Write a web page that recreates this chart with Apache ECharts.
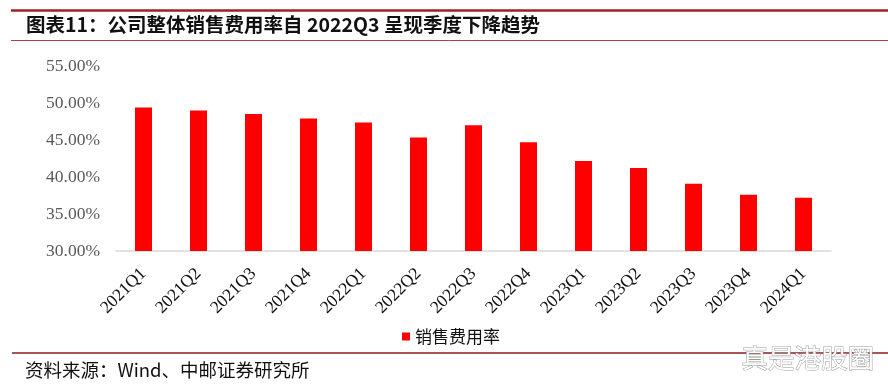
<!DOCTYPE html>
<html>
<head>
<meta charset="utf-8">
<script src="https://cdn.jsdelivr.net/npm/echarts@6/dist/echarts.min.js"></script>
<style>html,body{margin:0;padding:0;background:#fff;}#c{width:888px;height:390px;}</style>
</head>
<body>
<div id="c"></div>
<script>
const categories = ['2021Q1','2021Q2','2021Q3','2021Q4','2022Q1','2022Q2','2022Q3','2022Q4','2023Q1','2023Q2','2023Q3','2023Q4','2024Q1'];
const salesExpenseRatio = [49.4, 49.0, 48.5, 47.9, 47.35, 45.35, 47.0, 44.7, 42.15, 41.2, 39.1, 37.6, 37.2];
const seriesName = '销售费用率';
const titleText = '图表11：公司整体销售费用率自 2022Q3 呈现季度下降趋势';
const sourceText = '资料来源：Wind、中邮证券研究所';
const watermarkText = '真是港股圈';
const yMin = 30, yMax = 55, yStep = 5;

const chart = echarts.init(document.getElementById('c'), null, {renderer: 'canvas'});
chart.setOption({
  animation: false,
  backgroundColor: '#fff',
  graphic: [
    {type: 'line', shape: {x1: 11, y1: 10.5, x2: 888, y2: 10.5}, style: {stroke: '#9e1f24', lineWidth: 2.5}},
    {type: 'text', left: 26, top: 15, style: {text: titleText, font: 'bold 19.5px "Noto Sans CJK SC"', fill: '#111'}},
    {type: 'line', shape: {x1: 11, y1: 40.5, x2: 888, y2: 40.5}, style: {stroke: '#a84044', lineWidth: 1}},
    {type: 'line', shape: {x1: 12, y1: 353, x2: 888, y2: 353}, style: {stroke: '#8c1c20', lineWidth: 1.5}},
    {type: 'text', left: 25, top: 361, style: {text: sourceText, font: '18.5px "Noto Sans CJK SC"', fill: '#111'}},
    {type: 'text', left: 741, top: 344, style: {text: watermarkText, font: '26.5px "Noto Sans CJK SC"', fill: '#fff', stroke: '#9a9a9a', lineWidth: 1}}
  ],
  legend: {
    data: [seriesName],
    left: 397, top: 323,
    icon: 'rect', itemWidth: 8, itemHeight: 8, itemGap: 4,
    textStyle: {fontFamily: '"Noto Sans CJK SC"', fontSize: 17, color: '#111'}
  },
  grid: {left: 116, right: 57, top: 66, bottom: 139, containLabel: false},
  xAxis: {
    type: 'category',
    data: categories,
    axisLine: {lineStyle: {color: '#d9d9d9', width: 1.5}},
    axisTick: {show: false},
    axisLabel: {rotate: 45, margin: 20, interval: 0, fontFamily: '"Liberation Serif"', fontSize: 17.5, color: '#111'}
  },
  yAxis: {
    type: 'value',
    min: yMin, max: yMax, interval: yStep,
    axisLine: {show: false},
    axisTick: {show: false},
    splitLine: {show: false},
    axisLabel: {margin: 16, fontFamily: '"Liberation Serif"', fontSize: 17.5, color: '#595959', formatter: v => v.toFixed(2) + '%'}
  },
  series: [{
    name: seriesName,
    type: 'bar',
    data: salesExpenseRatio,
    barWidth: 17,
    itemStyle: {color: '#ff0000'}
  }]
});
</script>
</body>
</html>
